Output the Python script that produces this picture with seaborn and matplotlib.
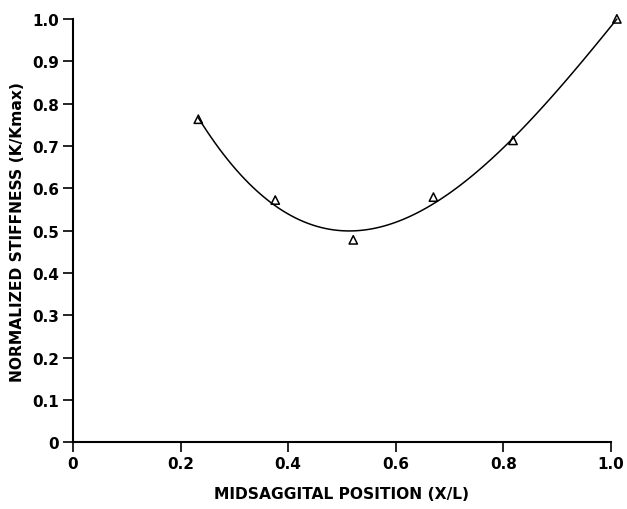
import matplotlib
matplotlib.use("Agg")
import matplotlib.pyplot as plt
import seaborn as sns
import pandas as pd

position = [0.233, 0.376, 0.521, 0.670, 0.818, 1.011]
stiffness = [0.763, 0.572, 0.478, 0.579, 0.713, 1.000]
x_ticks = [0, 0.2, 0.4, 0.6, 0.8, 1.0]
x_tick_labels = ["0", "0.2", "0.4", "0.6", "0.8", "1.0"]
y_ticks = [0, 0.1, 0.2, 0.3, 0.4, 0.5, 0.6, 0.7, 0.8, 0.9, 1.0]
y_tick_labels = ["0", "0.1", "0.2", "0.3", "0.4", "0.5", "0.6", "0.7", "0.8", "0.9", "1.0"]

df = pd.DataFrame({"x": position, "y": stiffness})

sns.set_style("ticks")
plt.rcParams["font.family"] = ["DejaVu Sans"]

fig = plt.figure(figsize=(6.27, 5.10), dpi=100)
ax = fig.add_axes([0.1164, 0.131, 0.858, 0.830])

sns.regplot(data=df, x="x", y="y", order=3, ci=None, ax=ax,
            scatter=False, line_kws=dict(color="black", lw=1.1, clip_on=False))
sns.scatterplot(data=df, x="x", y="y", ax=ax, marker="^", s=36,
                facecolor="none", edgecolor="black", linewidth=1.1, clip_on=False)

ax.set_xlim(0, 1.0)
ax.set_ylim(0, 1.0)
ax.set_xticks(x_ticks)
ax.set_xticklabels(x_tick_labels, fontsize=11, fontweight="bold")
ax.set_yticks(y_ticks)
ax.set_yticklabels(y_tick_labels, fontsize=11, fontweight="bold")
ax.tick_params(direction="out", length=7, width=1.2, color="black",
               labelcolor="black", pad=3)
for s in ["top", "right"]:
    ax.spines[s].set_visible(False)
for s in ["left", "bottom"]:
    ax.spines[s].set_linewidth(1.5)
    ax.spines[s].set_color("black")
ax.set_xlabel("MIDSAGGITAL POSITION (X/L)", fontsize=11.2, fontweight="bold",
              color="black", labelpad=11)
ax.set_ylabel("NORMALIZED STIFFNESS (K/Kmax)", fontsize=11.2, fontweight="bold",
              color="black", labelpad=5)

fig.savefig("out.png", dpi=100)
